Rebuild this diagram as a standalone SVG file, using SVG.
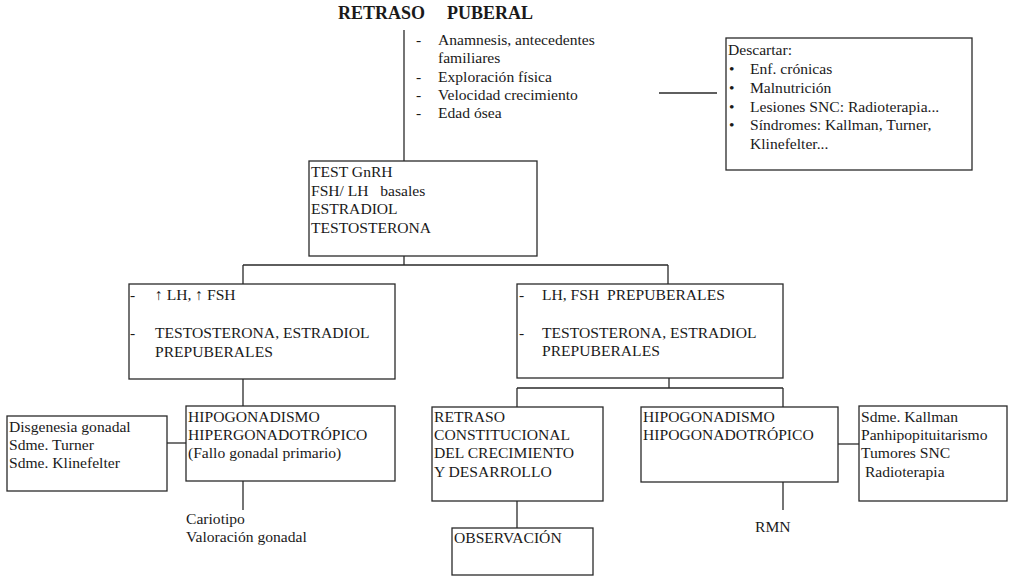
<svg xmlns="http://www.w3.org/2000/svg" width="1009" height="576" viewBox="0 0 1009 576">
<style>
text{font-family:"Liberation Serif","Times New Roman",serif;font-size:15.6px;fill:#1a1a1a;white-space:pre}
.title{font-size:18px;font-weight:bold}
.box{fill:none;stroke:#2a2a2a;stroke-width:1.3}
.ln{fill:none;stroke:#2a2a2a;stroke-width:1.3}
</style>
<rect width="1009" height="576" fill="#fff"/>
<g id="title">
<text class="title" y="19"><tspan x="338">RETRASO</tspan><tspan x="447">PUBERAL</tspan></text>
</g>
<g id="connectors">
<path class="ln" d="M404 30V161"/>
<path class="ln" d="M659 93H717"/>
<path class="ln" d="M404 256V265M243 265H668M243 265V284M668 265V284"/>
<path class="ln" d="M243 379V406"/>
<path class="ln" d="M167 443H186"/>
<path class="ln" d="M243 481V510"/>
<path class="ln" d="M669 378V388M517 388H783M517 388V407M783 388V407"/>
<path class="ln" d="M517 501V528"/>
<path class="ln" d="M783 482V510"/>
<path class="ln" d="M838 444H859"/>
</g>
<g id="history">
<text x="416" y="45">-</text><text x="438" y="45">Anamnesis, antecedentes</text>
<text x="438" y="63">familiares</text>
<text x="416" y="82">-</text><text x="438" y="82">Exploración física</text>
<text x="416" y="100">-</text><text x="438" y="100">Velocidad crecimiento</text>
<text x="416" y="118">-</text><text x="438" y="118">Edad ósea</text>
</g>
<g id="descartar">
<rect class="box" x="726" y="38" width="246" height="132"/>
<text x="728" y="55">Descartar:</text>
<text x="729" y="74">•</text><text x="750" y="74">Enf. crónicas</text>
<text x="729" y="93">•</text><text x="750" y="93">Malnutrición</text>
<text x="729" y="112">•</text><text x="750" y="112">Lesiones SNC: Radioterapia...</text>
<text x="729" y="130">•</text><text x="750" y="130">Síndromes: Kallman, Turner,</text>
<text x="750" y="149">Klinefelter...</text>
</g>
<g id="test">
<rect class="box" x="309" y="161" width="228" height="95"/>
<text x="311" y="177">TEST GnRH</text>
<text x="311" y="196" xml:space="preserve">FSH/ LH   basales</text>
<text x="311" y="214">ESTRADIOL</text>
<text x="311" y="233">TESTOSTERONA</text>
</g>
<g id="high">
<rect class="box" x="129" y="284" width="266" height="95"/>
<text x="130" y="300">-</text><text x="155" y="300">↑ LH, ↑ FSH</text>
<text x="130" y="338">-</text><text x="155" y="338">TESTOSTERONA, ESTRADIOL</text>
<text x="155" y="357">PREPUBERALES</text>
</g>
<g id="low">
<rect class="box" x="517" y="284" width="266" height="94"/>
<text x="519" y="300">-</text><text x="542" y="300" xml:space="preserve">LH, FSH  PREPUBERALES</text>
<text x="519" y="338">-</text><text x="542" y="338">TESTOSTERONA, ESTRADIOL</text>
<text x="542" y="356">PREPUBERALES</text>
</g>
<g id="disgenesia">
<rect class="box" x="7" y="416" width="160" height="75"/>
<text x="9" y="432">Disgenesia gonadal</text>
<text x="9" y="450">Sdme. Turner</text>
<text x="9" y="468">Sdme. Klinefelter</text>
</g>
<g id="hiper">
<rect class="box" x="186" y="406" width="209" height="75"/>
<text x="188" y="422">HIPOGONADISMO</text>
<text x="188" y="440">HIPERGONADOTRÓPICO</text>
<text x="188" y="458">(Fallo gonadal primario)</text>
</g>
<g id="cariotipo">
<text x="186" y="524">Cariotipo</text>
<text x="186" y="542">Valoración gonadal</text>
</g>
<g id="retraso">
<rect class="box" x="432" y="407" width="171" height="94"/>
<text x="434" y="422">RETRASO</text>
<text x="434" y="440">CONSTITUCIONAL</text>
<text x="434" y="458">DEL CRECIMIENTO</text>
<text x="434" y="477">Y DESARROLLO</text>
</g>
<g id="observacion">
<rect class="box" x="452" y="528" width="141" height="47"/>
<text x="454" y="543">OBSERVACIÓN</text>
</g>
<g id="hipo">
<rect class="box" x="641" y="407" width="197" height="75"/>
<text x="643" y="422">HIPOGONADISMO</text>
<text x="643" y="440">HIPOGONADOTRÓPICO</text>
</g>
<g id="rmn">
<text x="755" y="532">RMN</text>
</g>
<g id="kallman">
<rect class="box" x="859" y="406" width="148" height="95"/>
<text x="861" y="422">Sdme. Kallman</text>
<text x="861" y="440">Panhipopituitarismo</text>
<text x="861" y="458">Tumores SNC</text>
<text x="861" y="477" xml:space="preserve"> Radioterapia</text>
</g>
</svg>
